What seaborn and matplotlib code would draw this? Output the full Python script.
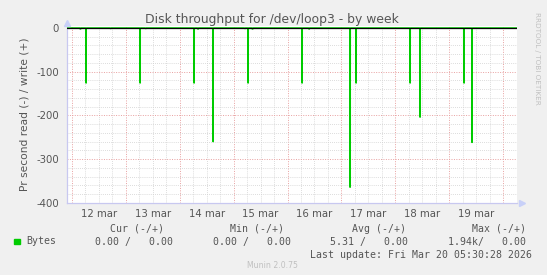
import matplotlib
matplotlib.use("Agg")
import matplotlib.pyplot as plt
import numpy as np
import pandas as pd
import seaborn as sns
from matplotlib.ticker import MultipleLocator, FixedLocator

# ---- data (days since 12 Mar 00:00, read values as negative) ----
spike_days = [0.265, 1.266, 2.267, 2.619, 3.268, 4.269, 5.159, 5.270, 6.271, 6.456, 7.271, 7.420]
spike_vals = [-126, -126, -126, -260, -126, -126, -364, -126, -126, -204, -126, -262]
blip_days = [0.16, 0.72, 1.37, 2.34, 3.21, 3.35, 4.40]
blip_vals = [-3, -2, -2, -3, -2, -3, -3]
day_labels = ["12 mar", "13 mar", "14 mar", "15 mar", "16 mar", "17 mar", "18 mar", "19 mar"]
x_start, x_end = -0.093, 8.254

legend_cur = ("0.00", "0.00")
legend_min = ("0.00", "0.00")
legend_avg = ("5.31", "0.00")
legend_max = ("1.94k", "0.00")

# ---- build series ----
half = 0.008
pts = [(x_start, 0.0), (x_end, 0.0)]
for d, v in list(zip(spike_days, spike_vals)) + list(zip(blip_days, blip_vals)):
    pts += [(d - half - 0.001, 0.0), (d - half, v), (d + half, v), (d + half + 0.001, 0.0)]
pts.sort()
df = pd.DataFrame(pts, columns=["day", "value"])

sns.set_style("white")
plt.rcParams["font.family"] = ["DejaVu Sans"]

fig = plt.figure(figsize=(5.47, 2.75), dpi=100)
fig.patch.set_facecolor("#f0f0f0")
ax = fig.add_axes([66.7 / 547, 1 - 203 / 275, (517 - 66.7) / 547, (203 - 26) / 275])
ax.set_facecolor("white")

ax.fill_between(df["day"], df["value"], 0, color="#7be07b", linewidth=0, zorder=2)
sns.lineplot(data=df, x="day", y="value", color="#00cc00", linewidth=0.75,
             estimator=None, sort=False, ax=ax, zorder=3)
ax.axhline(0, color="black", linewidth=0.9, zorder=4)

ax.set_xlim(x_start, x_end)
ax.set_ylim(-400, 4)

# grids
ax.xaxis.set_major_locator(FixedLocator(np.arange(0, 9)))
ax.xaxis.set_minor_locator(MultipleLocator(0.25))
ax.yaxis.set_major_locator(MultipleLocator(100))
ax.yaxis.set_minor_locator(MultipleLocator(20))
ax.grid(which="minor", color="#d0d0d0", linestyle=(0, (1, 1.5)), linewidth=0.6, zorder=0)
ax.grid(which="major", color="#e8a0a0", linestyle=(0, (1, 1.5)), linewidth=0.7, zorder=1)
ax.set_xticklabels([])
for i, lab in enumerate(day_labels):
    ax.text(i + 0.5, -0.035, lab, transform=ax.get_xaxis_transform(), ha="center", va="top",
            fontsize=7.3, color="#555555")
ax.set_yticks([0, -100, -200, -300, -400])
ax.set_yticklabels(["0", "-100", "-200", "-300", "-400"], fontsize=7.3, color="#555555")
ax.tick_params(axis="both", which="major", length=2.5, color="#e07070", pad=3, width=0.7)
ax.tick_params(axis="both", which="minor", length=1.5, color="#bbbbbb", width=0.6)
ax.tick_params(axis="x", which="major", direction="inout")
ax.set_xlabel("")
ax.set_ylabel("Pr second read (-) / write (+)", fontsize=7.7, color="#555555", labelpad=5)

for s in ["top", "right"]:
    ax.spines[s].set_visible(False)
for s in ["left", "bottom"]:
    ax.spines[s].set_color("#c8c8f0")
    ax.spines[s].set_linewidth(0.9)
ax.plot([1.012], [0], marker=">", color="#c8d0f8", markersize=4, transform=ax.transAxes,
        clip_on=False, zorder=5, linestyle="none")
ax.plot([0], [1.015], marker="^", color="#c8d0f8", markersize=4, transform=ax.transAxes,
        clip_on=False, zorder=5, linestyle="none")

fig.text(272 / 547, 1 - 19 / 275, "Disk throughput for /dev/loop3 - by week", ha="center", va="center",
         fontsize=8.9, color="#555555")
fig.text(537 / 547, 1 - 58 / 275, "RRDTOOL / TOBI OETIKER", ha="center", va="center", rotation=-90,
         fontsize=5.2, color="#c0c0c0")

mono = "DejaVu Sans Mono"
fs = 7.1
y_hdr = 1 - 228.5 / 275
y_row = 1 - 241.5 / 275
for cx, lab in [(137, "Cur (-/+)"), (257.5, "Min (-/+)"), (378.5, "Avg (-/+)"), (499, "Max (-/+)")]:
    fig.text(cx / 547, y_hdr, lab, ha="center", va="center", fontsize=fs, family=mono, color="#555555")
fig.patches.append(plt.Rectangle((14 / 547, 1 - 244 / 275), 5.5 / 547, 5.5 / 275,
                                 transform=fig.transFigure, color="#00cc00", figure=fig))
fig.text(26 / 547, y_row, "Bytes", ha="left", va="center", fontsize=fs, family=mono, color="#555555")
for rx, (a, b) in [(173, legend_cur), (291, legend_min), (408, legend_avg), (526, legend_max)]:
    s = (a + " /" if not a.endswith("k") else a + "/").rjust(6) + b.rjust(7)
    fig.text(rx / 547, y_row, s, ha="right", va="center", fontsize=fs, family=mono, color="#555555")
fig.text(532 / 547, 1 - 254.5 / 275, "Last update: Fri Mar 20 05:30:28 2026", ha="right", va="center",
         fontsize=fs, family=mono, color="#555555")
fig.text(272.5 / 547, 1 - 266 / 275, "Munin 2.0.75", ha="center", va="center", fontsize=5.6,
         color="#c0c0c0")

fig.savefig("out.png", dpi=100, facecolor=fig.get_facecolor())
